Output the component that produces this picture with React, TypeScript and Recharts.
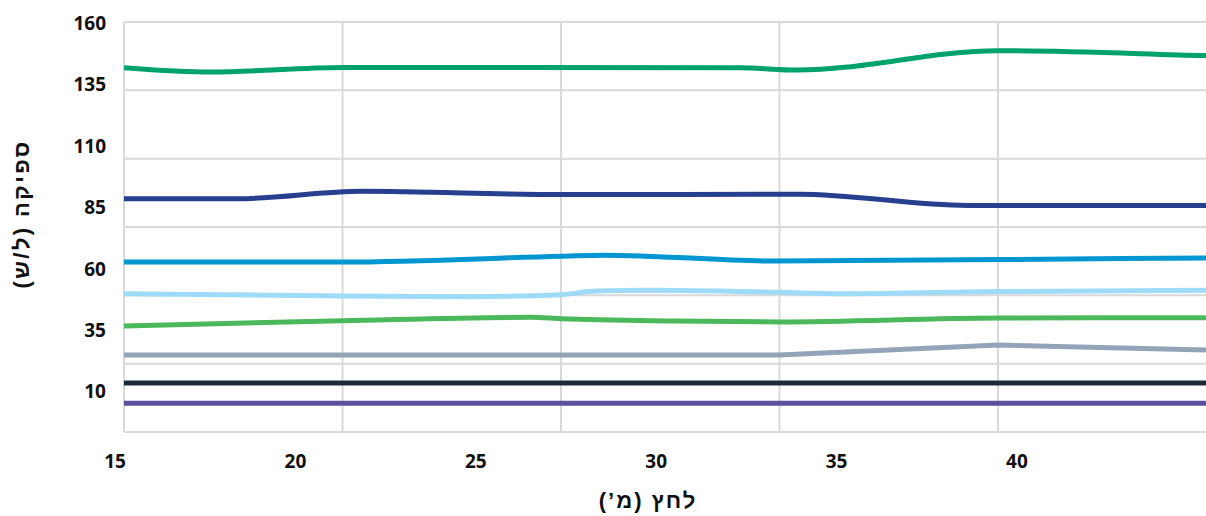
import { LineChart, Line, XAxis, YAxis, CartesianGrid, Label } from 'recharts';

// pressure (m) ticks shown under the chart, flow (l/h) ticks on the left
const PRESSURE_LABELS = [15, 20, 25, 30, 35, 40];
const FLOW_LABELS = [10, 35, 60, 85, 110, 135, 160];
// grid positions
const GRID_X = [15, 20, 25, 30, 35, 40];
const GRID_Y = [10, 35, 60, 85, 110, 135, 160];

// series (x against the vertical grid, y against the horizontal grid)
const s1x = [15, 17, 20, 29.1, 30.4, 35, 39.75, 40];
const s1y = [143.3, 141.7, 143.35, 143.25, 142.4, 149.5, 147.7, 147.6];

const s2x = [15, 17.6, 20.45, 25, 30.45, 34.3, 40];
const s2y = [95.35, 95.35, 98.05, 96.85, 97.0, 92.9, 92.9];

const s3x = [15, 20, 25, 26, 29.9, 35, 40];
const s3y = [72.2, 72.2, 74.3, 74.7, 72.55, 73.1, 73.7];

const s4x = [15, 20, 22.9, 25, 25.8, 27, 30, 31.4, 35, 40];
const s4y = [60.6, 59.8, 59.5, 60.25, 61.55, 61.85, 61.1, 60.6, 61.4, 61.9];

const s5x = [15, 20, 24.3, 25, 27.6, 30, 35, 40];
const s5y = [48.8, 50.7, 51.95, 51.45, 50.6, 50.25, 51.7, 51.8];

const s6x = [15, 20, 25, 30, 35, 40];
const s6y = [38.2, 38.2, 38.2, 38.2, 41.8, 39.9];

const s7x = [15, 20, 25, 30, 35, 40];
const s7y = [27.9, 27.9, 27.9, 27.9, 27.9, 27.9];

const s8x = [15, 20, 25, 30, 35, 40];
const s8y = [20.5, 20.5, 20.5, 20.5, 20.5, 20.5];

const zip = (xs: number[], ys: number[]) => xs.map((x, i) => ({ x, y: ys[i] }));

const series = [
  { id: 's1', data: zip(s1x, s1y), color: '#00A26B', type: 'monotone' },
  { id: 's2', data: zip(s2x, s2y), color: '#273F8F', type: 'monotone' },
  { id: 's3', data: zip(s3x, s3y), color: '#0096D2', type: 'monotone' },
  { id: 's4', data: zip(s4x, s4y), color: '#9DDBF8', type: 'monotone' },
  { id: 's5', data: zip(s5x, s5y), color: '#4CB85C', type: 'monotone' },
  { id: 's6', data: zip(s6x, s6y), color: '#94A4B8', type: 'linear' },
  { id: 's7', data: zip(s7x, s7y), color: '#1D2A3A', type: 'linear' },
  { id: 's8', data: zip(s8x, s8y), color: '#5B4F9E', type: 'linear' },
];

const GRID = '#d9d9d9';
const NUM_FONT = "'Noto Sans', 'Open Sans', sans-serif";
const HEB_FONT = "'Liberation Sans', 'DejaVu Sans', sans-serif";

const NoTick = () => <g />;

const YTick = ({ x, y, payload }: any) => (
  <text x={x} y={y} dy="0.355em" textAnchor="end" fontFamily={NUM_FONT} fontWeight={700} fontSize={19} fill="#111">
    {payload.value}
  </text>
);

const XTitle = () => (
  <text x={648} y={500} dominantBaseline="central" textAnchor="middle" direction="rtl" letterSpacing={2} fontFamily={HEB_FONT} fontWeight={700} fontSize={22} fill="#111">
    לחץ (מ’)
  </text>
);

const YTitle = () => (
  <text x={21} y={214} transform="rotate(-90 21 214)" dominantBaseline="central" textAnchor="middle" direction="rtl" letterSpacing={2.4} fontFamily={HEB_FONT} fontWeight={700} fontSize={22} fill="#111">
    ספיקה (ל/ש)
  </text>
);

export default function App() {
  return (
    <div style={{ position: 'fixed', left: 0, top: 0, width: 1206, height: 516, overflow: 'hidden', background: '#fff' }}>
      <div style={{ width: 1300, height: 516 }}>
        <LineChart width={1260} height={516} margin={{ top: 22, right: 43.5, bottom: 24, left: 0 }}>
          <CartesianGrid xAxisId="x" yAxisId="y" stroke={GRID} strokeWidth={2} />
          <XAxis
            xAxisId="x"
            type="number"
            dataKey="x"
            domain={[15, 40]}
            ticks={GRID_X}
            allowDataOverflow
            interval={0}
            height={0}
            tick={NoTick}
            tickSize={4}
            tickLine={{ stroke: GRID, strokeWidth: 2 }}
            axisLine={false}
          />
          <XAxis
            xAxisId="xl"
            type="number"
            dataKey="x"
            domain={[15, 45.28]}
            ticks={PRESSURE_LABELS}
            allowDataOverflow
            interval={0}
            height={60}
            tickMargin={17}
            tickLine={false}
            axisLine={false}
            tick={{ dx: -9, fontFamily: NUM_FONT, fontWeight: 700, fontSize: 19, fill: '#111' }}
          >
            <Label content={<XTitle />} />
          </XAxis>
          <YAxis
            yAxisId="y"
            type="number"
            domain={[10, 160]}
            ticks={GRID_Y}
            allowDataOverflow
            interval={0}
            width={0}
            tick={NoTick}
            tickSize={11}
            tickLine={{ stroke: GRID, strokeWidth: 2 }}
            axisLine={{ stroke: GRID, strokeWidth: 2 }}
          />
          <YAxis
            yAxisId="yl"
            type="number"
            domain={[-6.4, 160.53]}
            ticks={FLOW_LABELS}
            allowDataOverflow
            interval={0}
            width={124}
            tickSize={0}
            tickMargin={18}
            tickLine={false}
            axisLine={false}
            tick={<YTick />}
          >
            <Label content={<YTitle />} />
          </YAxis>
          {series.map((s) => (
            <Line
              key={s.id}
              xAxisId="x"
              yAxisId="y"
              data={s.data}
              dataKey="y"
              type={s.type as any}
              stroke={s.color}
              strokeWidth={5}
              dot={false}
              activeDot={false}
              isAnimationActive={false}
            />
          ))}
        </LineChart>
      </div>
    </div>
  );
}
